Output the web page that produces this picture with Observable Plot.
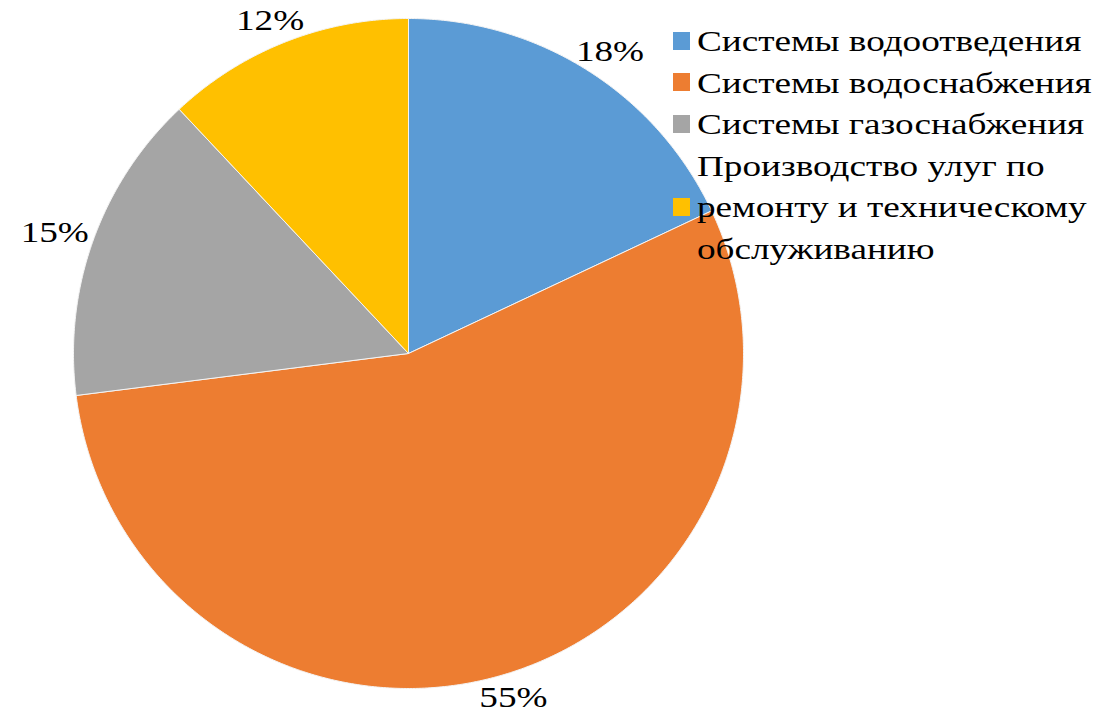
<!DOCTYPE html>
<html><head><meta charset="utf-8">
<script src="https://cdn.jsdelivr.net/npm/d3@7"></script>
<script src="https://cdn.jsdelivr.net/npm/@observablehq/plot@0.6"></script>
<style>
body{margin:0;background:#fff;}
#wrap{position:relative;width:1101px;height:714px;}
#legend{position:absolute;left:673px;top:20px;font-family:"Liberation Serif","Times New Roman",serif;font-size:30px;line-height:41.6px;color:#000;}
.item{display:flex;align-items:center;}
.sw{width:17px;height:18px;margin-right:7px;flex:none;}
.lbl{width:340px;transform:scaleX(1.24);transform-origin:left center;}
</style>
</head><body><div id="wrap"></div>
<script>
const categories = ["Системы водоотведения","Системы водоснабжения","Системы газоснабжения","Производство улуг по ремонту и техническому обслуживанию"];
const values = [18, 55, 15, 12];
const colors = ["#5B9BD5","#ED7D31","#A5A5A5","#FFC000"];
const labels = ["18%","55%","15%","12%"];

const R = 335; // pixel radius used only to convert label box offsets
const total = d3.sum(values);
const pts = [];
const lab = [];
let acc = 0;
categories.forEach((c, i) => {
  const a0 = acc / total * 2 * Math.PI;
  acc += values[i];
  const a1 = acc / total * 2 * Math.PI;
  pts.push({cat: c, x: 0, y: 0});
  const n = Math.max(2, Math.ceil((a1 - a0) / (Math.PI / 360)));
  for (let k = 0; k <= n; k++) {
    const a = a0 + (a1 - a0) * k / n;
    pts.push({cat: c, x: Math.sin(a), y: Math.cos(a)});
  }
  pts.push({cat: c, x: 0, y: 0});
  const am = (a0 + a1) / 2;
  const s = Math.sin(am), co = Math.cos(am);
  const rr = 1 + 8 / R;
  lab.push({text: labels[i], x: rr * s + s * 33 / R, y: rr * co + co * 15 / R});
});

const chart = Plot.plot({
  width: 1101, height: 714,
  marginLeft: 73, marginRight: 358, marginTop: 18, marginBottom: 26,
  x: {domain: [-1, 1], axis: null},
  y: {domain: [-1, 1], axis: null},
  color: {domain: categories, range: colors},
  style: {fontFamily: "'Liberation Serif', 'Times New Roman', serif", background: "#fff", overflow: "visible"},
  marks: [
    Plot.line(pts, {x: "x", y: "y", z: "cat", fill: "cat", stroke: "#f4f4f4", strokeWidth: 1, curve: "linear"}),
    Plot.text(lab, {x: "x", y: "y", text: "text", fontSize: 30, fill: "#000"})
  ]
});
const wrap = document.getElementById("wrap");
wrap.appendChild(chart);
chart.querySelectorAll("text").forEach(t => {
  const tr = t.getAttribute("transform");
  if (tr) t.setAttribute("transform", tr + " scale(1.24,1)");
});

const leg = document.createElement("div");
leg.id = "legend";
categories.forEach((c, i) => {
  const it = document.createElement("div");
  it.className = "item";
  const sw = document.createElement("div");
  sw.className = "sw"; sw.style.background = colors[i];
  const lb = document.createElement("div");
  lb.className = "lbl"; lb.textContent = c;
  it.appendChild(sw); it.appendChild(lb);
  leg.appendChild(it);
});
wrap.appendChild(leg);
</script>
</body></html>
